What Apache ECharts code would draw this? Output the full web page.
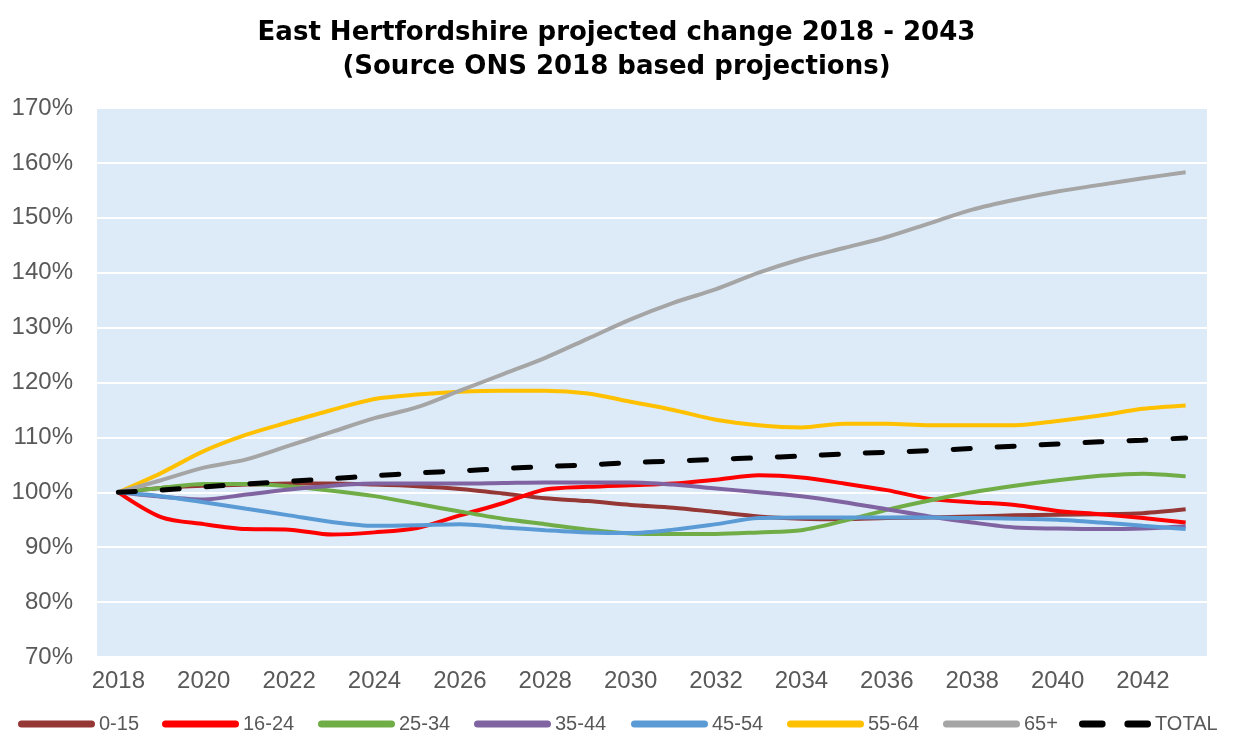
<!DOCTYPE html>
<html>
<head>
<meta charset="utf-8">
<script src="https://cdn.jsdelivr.net/npm/echarts@6/dist/echarts.min.js"></script>
<style>
  html, body { margin: 0; padding: 0; background: #fff; }
  #main { width: 1233px; height: 740px; }
</style>
</head>
<body>
<div id="main"></div>
<script>
// years on the x axis
var years = [];
for (var y = 2018; y <= 2043; y++) years.push(String(y));

// index values (2018 = 100%)
var age0_15 = [100, 100.8, 101.2, 101.4, 101.6, 101.6, 101.4, 101.1, 100.6, 99.8, 98.9, 98.4, 97.7, 97.2, 96.4, 95.6, 95.2, 95.1, 95.3, 95.4, 95.6, 95.8, 95.9, 96.0, 96.2, 96.9];
var age16_24 = [100, 95.5, 94.2, 93.3, 93.2, 92.3, 92.7, 93.5, 95.8, 98.0, 100.5, 101.0, 101.3, 101.6, 102.3, 103.1, 102.7, 101.6, 100.4, 98.8, 98.2, 97.7, 96.6, 96.0, 95.3, 94.5];
var age25_34 = [100, 100.8, 101.5, 101.5, 101.1, 100.3, 99.3, 97.9, 96.5, 95.2, 94.2, 93.2, 92.5, 92.4, 92.4, 92.7, 93.1, 94.8, 96.8, 98.5, 100.0, 101.2, 102.2, 103.0, 103.4, 102.9];
var age35_44 = [100, 99.2, 98.7, 99.6, 100.5, 101.2, 101.6, 101.6, 101.6, 101.7, 101.8, 101.8, 101.8, 101.4, 100.7, 100.0, 99.3, 98.2, 96.9, 95.6, 94.5, 93.6, 93.4, 93.3, 93.4, 93.8];
var age45_54 = [100, 99.3, 98.2, 97.0, 95.8, 94.6, 93.9, 94.0, 94.2, 93.6, 93.1, 92.7, 92.6, 93.2, 94.2, 95.3, 95.4, 95.4, 95.4, 95.4, 95.3, 95.2, 95.0, 94.5, 93.9, 93.3];
var age55_64 = [100, 103.5, 107.5, 110.5, 112.8, 115.0, 117.0, 117.8, 118.3, 118.5, 118.5, 118.0, 116.5, 115.0, 113.2, 112.2, 111.8, 112.5, 112.5, 112.2, 112.2, 112.2, 113.0, 114.0, 115.2, 115.8];
var age65plus = [100, 102.2, 104.5, 106.0, 108.5, 111.0, 113.5, 115.5, 118.5, 121.5, 124.5, 128.0, 131.5, 134.5, 137.0, 140.0, 142.5, 144.5, 146.5, 149.0, 151.5, 153.3, 154.8, 156.0, 157.2, 158.3];
var total = [100, 100.4, 101.0, 101.5, 102.0, 102.5, 103.0, 103.5, 103.9, 104.3, 104.7, 105.0, 105.4, 105.7, 106.0, 106.3, 106.6, 107.0, 107.3, 107.6, 108.0, 108.4, 108.8, 109.2, 109.5, 109.9];

var names = ['0-15', '16-24', '25-34', '35-44', '45-54', '55-64', '65+', 'TOTAL'];
var colors = ['#953735', '#ff0000', '#70ad47', '#8064a2', '#5b9bd5', '#ffc000', '#a5a5a5', '#000000'];
var values = [age0_15, age16_24, age25_34, age35_44, age45_54, age55_64, age65plus, total];

// where each legend entry starts (px from the left)
var legendLeft = [18, 162, 318, 474, 631, 787, 943, 1079];

var font = 'Liberation Sans, Arial, sans-serif';

// legend icons: a thick rounded line, and two dashes for the total
var lineIcon = 'path://M3.5,0H73.5A3.5,3.5,0,0,1,73.5,7H3.5A3.5,3.5,0,0,1,3.5,0Z';
var dashIcon = 'path://M3.5,0H23.5A3.5,3.5,0,0,1,23.5,7H3.5A3.5,3.5,0,0,1,3.5,0Z M49.5,0H69.5A3.5,3.5,0,0,1,69.5,7H49.5A3.5,3.5,0,0,1,49.5,0Z';

var myChart = echarts.init(document.getElementById('main'));

var series = names.map(function (n, i) {
    return {
        name: n,
        type: 'line',
        data: values[i],
        smooth: 0.3,
        symbol: 'none',
        lineStyle: {
            color: colors[i],
            width: i === 7 ? 5 : 4,
            type: i === 7 ? [17, 27] : 'solid',
            cap: i === 7 ? 'round' : 'butt'
        },
        itemStyle: { color: colors[i] }
    };
});

// one legend per entry so each sits where it does in the original
var legends = names.map(function (n, i) {
    return {
        data: [{ name: n, icon: i === 7 ? dashIcon : lineIcon }],
        top: 714,
        left: legendLeft[i],
        padding: 0,
        itemWidth: i === 7 ? 72 : 77,
        itemHeight: 7,
        textStyle: {
            fontFamily: font,
            fontSize: 20,
            color: '#595959',
            padding: [0, 0, 0, -1]
        }
    };
});

var option = {
    animation: false,
    title: {
        text: 'East Hertfordshire projected change 2018 - 2043\n(Source ONS 2018 based projections)',
        left: 'center',
        top: 11,
        textStyle: {
            fontFamily: 'DejaVu Sans, Verdana, sans-serif',
            fontWeight: 'bold',
            fontSize: 26,
            lineHeight: 34,
            color: '#000'
        }
    },
    legend: legends,
    grid: {
        left: 97,
        right: 26,
        top: 108,
        bottom: 83,
        show: true,
        backgroundColor: '#ddebf8',
        borderWidth: 0
    },
    xAxis: {
        type: 'category',
        data: years,
        boundaryGap: true,
        axisLine: { show: false },
        axisTick: { show: false },
        axisLabel: {
            interval: 1,
            margin: 12,
            fontFamily: font,
            fontSize: 24,
            color: '#595959'
        }
    },
    yAxis: {
        type: 'value',
        min: 70,
        max: 170,
        interval: 10,
        axisLine: { show: false },
        axisTick: { show: false },
        splitLine: { lineStyle: { color: '#ffffff', width: 2 } },
        axisLabel: {
            formatter: '{value}%',
            margin: 24,
            fontFamily: font,
            fontSize: 24,
            color: '#595959'
        }
    },
    series: series
};

myChart.setOption(option);
</script>
</body>
</html>
